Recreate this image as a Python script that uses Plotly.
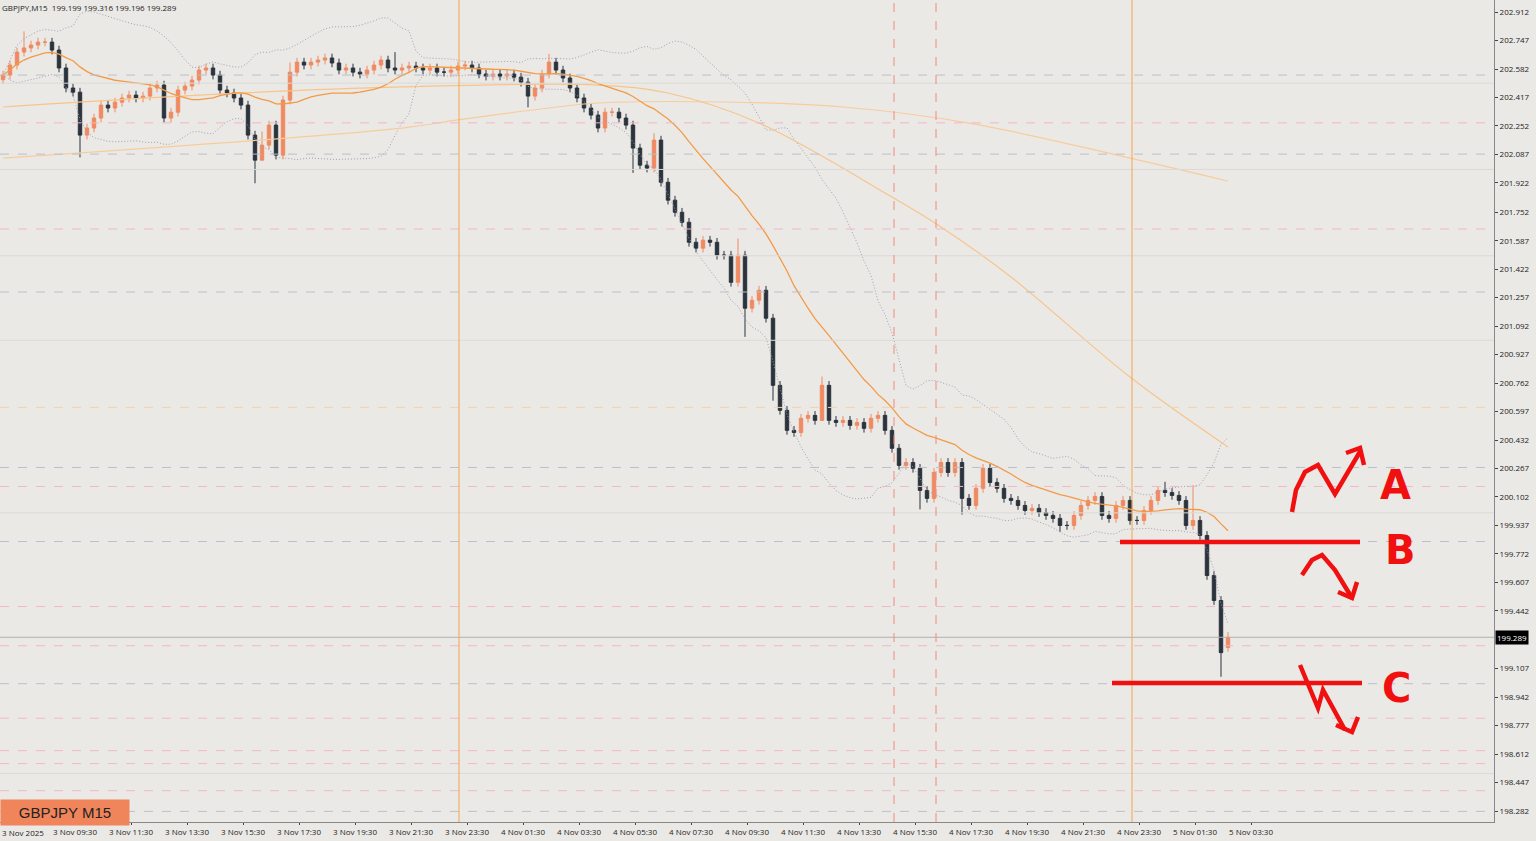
import plotly.graph_objects as go
import pandas as pd

closes = [202.547,202.605,202.680,202.704,202.721,202.738,202.738,202.692,202.588,202.472,
202.448,202.199,202.240,202.298,202.373,202.356,202.390,202.414,202.431,202.414,
202.425,202.472,202.489,202.298,202.332,202.460,202.483,202.518,202.576,202.588,
202.547,202.460,202.443,202.414,202.373,202.199,202.054,202.141,202.257,202.083,
202.402,202.564,202.622,202.605,202.622,202.634,202.646,202.617,202.576,202.588,
202.564,202.553,202.576,202.605,202.634,202.588,202.576,202.588,202.599,202.588,
202.576,202.588,202.564,202.564,202.576,202.599,202.605,202.588,202.553,202.541,
202.553,202.541,202.553,202.535,202.506,202.425,202.472,202.553,202.622,202.576,
202.530,202.472,202.414,202.356,202.315,202.240,202.332,202.332,202.298,202.257,
202.124,202.025,202.008,202.170,201.926,201.822,201.752,201.694,201.578,201.544,
201.590,201.578,201.503,201.503,201.346,201.503,201.196,201.242,201.300,201.138,
200.749,200.604,200.488,200.476,200.558,200.575,200.546,200.749,200.546,200.534,
200.546,200.517,200.534,200.500,200.558,200.575,200.488,200.384,200.285,200.302,
200.268,200.140,200.094,200.244,200.302,200.244,200.302,200.094,200.053,200.152,
200.268,200.186,200.152,200.094,200.082,200.053,200.024,200.036,200.012,199.995,
199.978,199.937,199.937,199.995,200.053,200.082,200.105,199.995,199.978,200.053,
200.082,199.966,199.966,200.024,200.082,200.140,200.128,200.111,200.082,199.937,
199.966,199.879,199.647,199.502,199.200,199.289]
first_open = 202.520
wick_up = 0.025
wick_dn = 0.025
low_overrides = {11: 202.07, 36: 201.92, 37: 202.06, 75: 202.36, 90: 201.98, 106: 201.03, 110: 200.66,
                 117: 200.60, 131: 200.03, 137: 200.00, 151: 199.90, 174: 199.06}
high_overrides = {3: 202.80, 37: 202.22, 41: 202.62, 56: 202.68, 78: 202.67, 93: 202.21, 105: 201.60,
                  117: 200.80, 166: 200.19, 170: 200.17, 175: 199.32}

ma50_idx = [0,28,57,85,95,108,127,134,144,161,175]
ma50_val = [202.362,202.431,202.478,202.489,202.443,202.269,201.840,201.667,201.377,200.797,200.392]
ma200_idx = [0,57,65,78,85,103,120,138,161,175]
ma200_val = [202.066,202.240,202.287,202.356,202.385,202.391,202.362,202.269,202.066,201.933]

tick_labels = ["3 Nov 2025","3 Nov 09:30","3 Nov 11:30","3 Nov 13:30","3 Nov 15:30","3 Nov 17:30",
"3 Nov 19:30","3 Nov 21:30","3 Nov 23:30","4 Nov 01:30","4 Nov 03:30","4 Nov 05:30","4 Nov 07:30",
"4 Nov 09:30","4 Nov 11:30","4 Nov 13:30","4 Nov 15:30","4 Nov 17:30","4 Nov 19:30","4 Nov 21:30",
"4 Nov 23:30","5 Nov 01:30","5 Nov 03:30"]
y_ticks = [202.912,202.747,202.582,202.417,202.252,202.087,201.922,201.752,201.587,201.422,201.257,
201.092,200.927,200.762,200.597,200.432,200.267,200.102,199.937,199.772,199.607,199.442,
199.107,198.942,198.777,198.612,198.447,198.282]
grey_dash = [202.547,202.089,201.29,200.273,199.844,199.02,198.28]
pink_dash = [202.27,201.655,200.163,199.467,199.24,198.82,198.632,198.557,198.40]
orange_dash = [200.621]
solid_grey = [202.50,202.0,201.5,201.01,200.01,198.50]

n = len(closes)
x = list(range(n))
opens = [first_open] + closes[:-1]
opens[175] = 199.230
highs = [max(o, c) + wick_up for o, c in zip(opens, closes)]
lows = [min(o, c) - wick_dn for o, c in zip(opens, closes)]
for k, v in low_overrides.items(): lows[k] = v
for k, v in high_overrides.items(): highs[k] = v

s = pd.Series(closes)
ma = s.rolling(20, min_periods=1).mean()
sd = s.rolling(20, min_periods=2).std(ddof=0).fillna(0)
bu, bl = ma + 2*sd, ma - 2*sd

W, PB, PR = 1494, 822, 42
def px(p):
    return (p - 3) / 7
Y0, SL = 202.982, 0.005795
def py(p):
    return Y0 - SL * p

fig = go.Figure()
for y in grey_dash:
    fig.add_hline(y=y, line=dict(color="#b9bfcc", width=1, dash="dash"))
for y in pink_dash:
    fig.add_hline(y=y, line=dict(color="#f0b8c8", width=1, dash="dash"))
for y in orange_dash:
    fig.add_hline(y=y, line=dict(color="#f5d2a8", width=1, dash="dash"))
for y in solid_grey:
    fig.add_hline(y=y, line=dict(color="#dcdad6", width=1))
fig.add_hline(y=closes[-1], line=dict(color="#b0b0b0", width=1))
for xv in [459, 1132]:
    fig.add_vline(x=px(xv), line=dict(color="#f5a54a", width=1))
for xv in [894, 936]:
    fig.add_vline(x=px(xv), line=dict(color="#f08a80", width=1, dash="dash"))

fig.add_trace(go.Scatter(x=x, y=bu, mode="lines", line=dict(color="#a0a0b4", width=1, dash="1px,2px"), hoverinfo="skip"))
fig.add_trace(go.Scatter(x=x, y=bl, mode="lines", line=dict(color="#a0a0b4", width=1, dash="1px,2px"), hoverinfo="skip"))
fig.add_trace(go.Scatter(x=ma200_idx, y=ma200_val, mode="lines", line=dict(color="#f7cc9c", width=1.2, shape="spline")))
fig.add_trace(go.Scatter(x=ma50_idx, y=ma50_val, mode="lines", line=dict(color="#f7c48a", width=1.2, shape="spline")))
fig.add_trace(go.Scatter(x=x, y=ma, mode="lines", line=dict(color="#f39a45", width=1.3)))
fig.add_trace(go.Candlestick(x=x, open=opens, high=highs, low=lows, close=closes, whiskerwidth=0,
    increasing=dict(line=dict(color="#ef8a62", width=1), fillcolor="#ef8a62"),
    decreasing=dict(line=dict(color="#2b333d", width=1), fillcolor="#2b333d")))

red = "#f01010"
def path(pts):
    return "M " + " L ".join(f"{px(a)},{py(b)}" for a, b in pts)
strokes = [
    [(1120,542),(1360,542)], [(1112,683),(1362,683)],
    [(1292,512),(1296,490),(1305,472),(1318,465),(1335,494),(1361,450)],
    [(1346,453),(1360,448),(1364,465)],
    [(1302,575),(1312,560),(1322,555),(1335,570),(1352,598)],
    [(1338,592),(1352,598),(1357,582)],
    [(1300,665),(1318,708),(1323,690),(1345,730)],
    [(1336,725),(1352,732),(1358,717)],
]
for i, st in enumerate(strokes):
    fig.add_shape(type="path", path=path(st), xref="x", yref="y", line=dict(color=red, width=4.5))
for t, (a, b) in {"A": (1395, 485), "B": (1400, 550), "C": (1396, 688)}.items():
    fig.add_annotation(x=px(a), y=py(b), text="<b>" + t + "</b>", showarrow=False,
                       font=dict(color=red, size=40, family="DejaVu Sans"))

fig.add_annotation(x=0, y=1.0, xref="paper", yref="paper", xanchor="left", yanchor="top", showarrow=False,
    text="GBPJPY,M15  199.199 199.316 199.196 199.289", font=dict(size=8, color="#222"))
fig.add_annotation(x=0, y=0, xref="paper", yref="paper", xanchor="left", yanchor="top", yshift=-3, showarrow=False,
    text=tick_labels[0], font=dict(size=8, color="#222"))
fig.add_annotation(x=0, y=py(812), xref="paper", yref="y", xanchor="left", yanchor="middle", showarrow=False,
    text="GBPJPY M15", bgcolor="#f0845a", borderpad=4, width=120, font=dict(size=15, color="#222", family="Arial"))
fig.add_annotation(x=1.0, y=closes[-1], xref="paper", yref="y", xanchor="left", xshift=1, showarrow=False, text="199.289",
    bgcolor="#000", font=dict(size=8, color="#fff"), borderpad=1)

fig.update_layout(width=1536, height=841, margin=dict(l=0, r=PR, t=0, b=841-PB),
    paper_bgcolor="#ebe9e6", plot_bgcolor="#ebe9e6", showlegend=False,
    xaxis=dict(range=[px(0), px(W)], rangeslider=dict(visible=False), showgrid=False, zeroline=False,
        automargin=False, tickvals=[px(19+56*k) for k in range(1, len(tick_labels))], ticktext=tick_labels[1:],
        tickfont=dict(size=8, color="#222"), ticks="outside", ticklen=2, showline=True, linecolor="#888"),
    yaxis=dict(range=[py(PB), py(0)], side="right", tickvals=y_ticks, ticktext=[f"{v:.3f}" for v in y_ticks],
        automargin=False, showgrid=False, zeroline=False, tickfont=dict(size=8, color="#222"), ticks="outside",
        ticklen=3, showline=True, linecolor="#888"))
fig.write_html("out.html", config={"displayModeBar": False},
    post_script="document.body.style.margin='0';document.body.style.overflow='hidden';document.body.style.background='#ebe9e6';")
